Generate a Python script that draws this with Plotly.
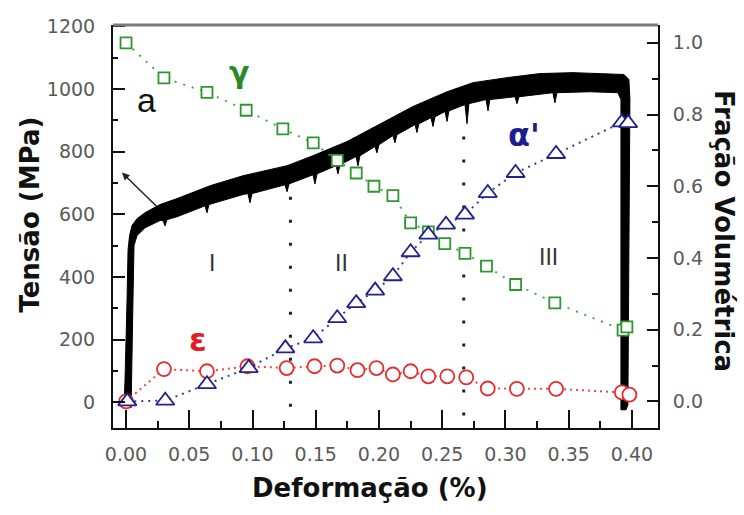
import plotly.graph_objects as go

# ---- stress-strain curve (black band: upper and lower edges of the trace) ----
STRESS_UPPER_STRAIN = [-0.0016, -0.0008, 0.0008, 0.0016, 0.0028, 0.0047, 0.0087, 0.0150, 0.0269,
                       0.0403, 0.0664, 0.0925, 0.1273, 0.1478, 0.1747, 0.2008, 0.2269, 0.2538,
                       0.2743, 0.3012, 0.3273, 0.3534, 0.3802, 0.3937, 0.3976, 0.3984, 0.3976,
                       0.3968, 0.3953]
STRESS_UPPER_MPA = [-18, 72, 327, 487, 532, 564, 586, 605, 631,
                    650, 691, 723, 755, 787, 832, 889, 944, 991,
                    1020, 1036, 1049, 1052, 1049, 1046, 1030, 966, 487,
                    -8, -24]

STRESS_LOWER_STRAIN = [0.0040, 0.0047, 0.0055, 0.0063, 0.0087, 0.0150, 0.0269, 0.0292, 0.0308,
                       0.0324, 0.0403, 0.0625, 0.0640, 0.0656, 0.0925, 0.0964, 0.0980, 0.0996,
                       0.1257, 0.1273, 0.1289, 0.1478, 0.1494, 0.1510, 0.1660, 0.1676, 0.1692,
                       0.1818, 0.1834, 0.1850, 0.1968, 0.1984, 0.2000, 0.2111, 0.2126, 0.2142,
                       0.2285, 0.2300, 0.2316, 0.2411, 0.2427, 0.2443, 0.2522, 0.2538, 0.2553,
                       0.2680, 0.2696, 0.2711, 0.2846, 0.2862, 0.2877, 0.3075, 0.3091, 0.3107,
                       0.3375, 0.3391, 0.3407, 0.3668, 0.3889, 0.3913, 0.3913, 0.3913]
STRESS_LOWER_MPA = [-18, 72, 327, 500, 532, 557, 580, 580, 563,
                    583, 592, 627, 605, 631, 663, 666, 637, 666,
                    694, 672, 697, 726, 697, 729, 755, 729, 758,
                    784, 755, 787, 816, 796, 822, 851, 828, 854,
                    886, 861, 889, 908, 880, 911, 928, 896, 930,
                    950, 889, 953, 966, 930, 966, 975, 953, 975,
                    988, 956, 988, 991, 988, 966, 327, -24]

# ---- phase volume fractions ----
GAMMA_STRAIN = [0.000, 0.030, 0.064, 0.095, 0.124, 0.148, 0.167, 0.182, 0.196, 0.211,
                0.225, 0.239, 0.252, 0.268, 0.285, 0.308, 0.339, 0.393, 0.396]
GAMMA_FRAC = [1.000, 0.902, 0.862, 0.812, 0.760, 0.721, 0.672, 0.637, 0.600, 0.574,
              0.498, 0.473, 0.440, 0.413, 0.377, 0.326, 0.275, 0.199, 0.208]

ALPHA_STRAIN = [0.001, 0.031, 0.064, 0.097, 0.126, 0.148, 0.167, 0.182, 0.197, 0.211,
                0.225, 0.239, 0.253, 0.268, 0.286, 0.308, 0.340, 0.392, 0.397]
ALPHA_FRAC = [0.000, 0.002, 0.048, 0.093, 0.148, 0.176, 0.232, 0.274, 0.309, 0.349,
              0.416, 0.465, 0.493, 0.521, 0.581, 0.637, 0.690, 0.778, 0.776]

EPS_STRAIN = [0.000, 0.030, 0.064, 0.096, 0.127, 0.149, 0.167, 0.183, 0.198, 0.211,
              0.225, 0.239, 0.254, 0.269, 0.286, 0.309, 0.340, 0.392, 0.398]
EPS_FRAC = [0.000, 0.090, 0.084, 0.098, 0.093, 0.098, 0.100, 0.087, 0.093, 0.075,
            0.084, 0.070, 0.070, 0.067, 0.036, 0.035, 0.035, 0.025, 0.019]

# ---- stage boundaries (strain) and their vertical extent (MPa) ----
STAGE_BOUNDS = [0.130, 0.267]
STAGE_LINE_TOP = [656, 848]
STAGE_LINE_BOTTOM = [-65, -50]
STAGE_LABELS = ["I", "II", "III"]

TICK_FONT = dict(family="DejaVu Sans", size=19, color="#5a5a5a")
TITLE_FONT = dict(family="DejaVu Sans", size=26, color="#111111")

fig = go.Figure()

# stress-strain band
band_x = STRESS_UPPER_STRAIN + STRESS_LOWER_STRAIN[::-1]
band_y = STRESS_UPPER_MPA + STRESS_LOWER_MPA[::-1]
fig.add_trace(go.Scatter(x=band_x, y=band_y, mode="lines", fill="toself",
                         fillcolor="#000000", line=dict(color="#000000", width=1),
                         hoverinfo="skip"))

# dotted stage boundaries
for xb, top, bot in zip(STAGE_BOUNDS, STAGE_LINE_TOP, STAGE_LINE_BOTTOM):
    fig.add_trace(go.Scatter(x=[xb, xb], y=[top, bot], mode="lines",
                             line=dict(color="#222222", width=3, dash="3px,20px"),
                             hoverinfo="skip"))

# volume fraction series (right axis)
fig.add_trace(go.Scatter(x=EPS_STRAIN, y=EPS_FRAC, yaxis="y2", mode="lines+markers",
                         line=dict(color="#e8474a", width=2, dash="2px,4px"),
                         marker=dict(symbol="circle", size=14, color="white",
                                     line=dict(color="#e52d2d", width=1.8))))
fig.add_trace(go.Scatter(x=GAMMA_STRAIN, y=GAMMA_FRAC, yaxis="y2", mode="lines+markers",
                         line=dict(color="#4aa64a", width=2, dash="2px,7px"),
                         marker=dict(symbol="square", size=11, color="white",
                                     line=dict(color="#2f962f", width=1.8))))
fig.add_trace(go.Scatter(x=ALPHA_STRAIN, y=ALPHA_FRAC, yaxis="y2", mode="lines+markers",
                         line=dict(color="#3c3ca0", width=2, dash="2px,5px"),
                         marker=dict(symbol="triangle-up", size=16, color="white",
                                     line=dict(color="#22228c", width=1.8))))

annotations = [
    # axis titles
    dict(text="<b>Tensão (MPa)</b>", xref="paper", yref="paper", x=-0.152, y=0.530,
         textangle=-90, showarrow=False, font=TITLE_FONT, xanchor="center", yanchor="middle"),
    dict(text="<b>Fração Volumétrica</b>", xref="paper", yref="paper", x=1.121, y=0.489,
         textangle=90, showarrow=False, font=TITLE_FONT, xanchor="center", yanchor="middle"),
    dict(text="<b>Deformação (%)</b>", xref="paper", yref="paper", x=0.472, y=-0.150,
         showarrow=False, font=TITLE_FONT, xanchor="center", yanchor="middle"),
    # phase labels
    dict(text="<b>γ</b>", x=0.0895, y=1052, showarrow=False,
         font=dict(family="DejaVu Sans", size=30, color="#2a8a2a")),
    dict(text="<b>ε</b>", x=0.0569, y=200, showarrow=False,
         font=dict(family="DejaVu Sans", size=32, color="#e51c23")),
    dict(text="<b>α'</b>", x=0.315, y=852, showarrow=False,
         font=dict(family="DejaVu Sans", size=32, color="#1c1c8c")),
    dict(text="a", x=0.0164, y=964, showarrow=False,
         font=dict(family="Liberation Sans", size=34, color="#111111")),
    # arrow pointing at the elastic-plastic transition
    dict(text="", x=-0.0032, y=733, ax=0.0253, ay=621, axref="x", ayref="y",
         showarrow=True, arrowhead=2, arrowsize=1, arrowwidth=1.5, arrowcolor="#222222",
         standoff=0),
]
# stage numerals
for label, xl, yl in zip(STAGE_LABELS, [0.0677, 0.1705, 0.334], [445, 445, 465]):
    annotations.append(dict(text=label, x=xl, y=yl, showarrow=False,
                            font=dict(family="Liberation Sans", size=23, color="#333333")))

fig.update_layout(
    width=744, height=515,
    margin=dict(l=113, r=86, t=25, b=87),
    plot_bgcolor="white", paper_bgcolor="white",
    showlegend=False,
    annotations=annotations,
    xaxis=dict(range=[-0.0103, 0.4206], tickmode="linear", tick0=0, dtick=0.05,
               tickformat=".2f", ticks="inside", ticklen=18, tickwidth=2, tickcolor="#111111",
               showline=True, linecolor="#111111", linewidth=2, mirror=False,
               showgrid=False, zeroline=False, tickfont=TICK_FONT, ticklabelstandoff=8,
               minor=dict(tick0=0, dtick=0.025, ticks="inside", ticklen=7, tickwidth=2,
                          tickcolor="#111111")),
    yaxis=dict(range=[-82, 1204], tickmode="linear", tick0=0, dtick=200,
               ticks="inside", ticklen=12, tickwidth=2, tickcolor="#111111",
               showline=True, linecolor="#111111", linewidth=2, mirror=False,
               showgrid=False, zeroline=False, tickfont=TICK_FONT, ticklabelstandoff=12,
               minor=dict(tick0=0, dtick=100, ticks="inside", ticklen=5, tickwidth=2,
                          tickcolor="#111111")),
    yaxis2=dict(range=[-0.0742, 1.0497], overlaying="y", side="right", tickmode="linear",
                tick0=0, dtick=0.2, tickformat=".1f", ticks="inside", ticklen=11,
                tickwidth=2, tickcolor="#111111", showline=True, linecolor="#111111",
                linewidth=2, showgrid=False, zeroline=False, tickfont=TICK_FONT,
                ticklabelstandoff=9,
                minor=dict(tick0=0, dtick=0.1, ticks="inside", ticklen=6, tickwidth=2,
                           tickcolor="#111111")),
    shapes=[dict(type="line", xref="paper", yref="paper", x0=0, x1=1, y0=1, y1=1,
                 line=dict(color="#7a7a7a", width=3))],
)

fig.write_html("out.html")
